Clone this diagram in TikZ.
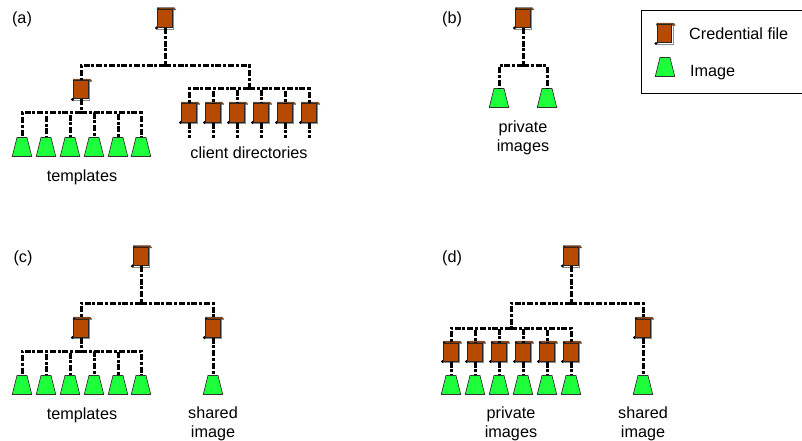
\documentclass[tikz,border=0pt]{standalone}
\usepackage{fontspec}
\setmainfont{Liberation Sans}
\usetikzlibrary{shapes.geometric, calc}
\definecolor{credbrown}{HTML}{B84A00}
\definecolor{imggreen}{HTML}{1EFF3C}
\tikzset{
    link/.style={black, line width=3pt, dash pattern=on 6pt off 1.8pt on 3pt off 1.8pt},
    credfile/.style={draw=black!85, line width=1pt, fill=credbrown, minimum width=14.5pt, minimum height=18pt, inner sep=0pt,
        append after command={
            \pgfextra{
                \draw[black!45, line width=0.8pt] ($(\tikzlastnode.north east)+(1pt,0pt)$) -- ($(\tikzlastnode.south east)+(1pt,-1pt)$) -- ($(\tikzlastnode.south west)+(0pt,-1pt)$);
                \fill[credbrown!75!black, draw=black!60, line width=0.5pt] ($(\tikzlastnode.north west)+(0pt,-0.8pt)$) -- ($(\tikzlastnode.north east)+(3pt,-0.8pt)$) -- ($(\tikzlastnode.north east)+(1.5pt,1.4pt)$) -- ($(\tikzlastnode.north west)+(0pt,1.4pt)$) -- cycle;
                \fill[black] ($(\tikzlastnode.north west)+(0.8pt,-0.4pt)$) circle (1.4pt);
                \fill[black] ($(\tikzlastnode.south west)+(-0.8pt,0pt)$) circle (1.7pt);
            }
        }},
    imagefile/.style={draw=black!80, line width=0.7pt, fill=imggreen, trapezium, trapezium left angle=76, trapezium right angle=76, inner xsep=5pt, inner ysep=9.5pt},
    lbl/.style={font=\fontsize{16.2}{18.8}\selectfont, align=center, inner sep=0pt}
}
\begin{document}
\begin{tikzpicture}[x=1pt, y=-1pt]
    \useasboundingbox (0,0) rectangle (802,441);

    % (a)
    \node[lbl] (tagA) at (22,19) {(a)};
    \node[credfile] (aroot) at (165,18.5) {};
    \node[credfile] (atpl) at (81,90) {};
    \coordinate (abus) at (165,66);
    \coordinate (abusr) at (249,66);
    \coordinate (atplbus) at (81,113);
    \coordinate (aclibus) at (249,89);
    \draw[link] (aroot.south) -- (abus) -| (atpl.north);
    \draw[link] (abus) -- (abusr) -- (aclibus);
    \draw[link] (atpl.south) -- (atplbus);
    \foreach \i/\x in {1/22, 2/46, 3/70, 4/94, 5/118, 6/141} {
        \node[imagefile] (aimg\i) at (\x,147) {};
        \draw[link] (atplbus) -| (aimg\i.north);
    }
    \foreach \i/\x in {1/189, 2/213, 3/237, 4/261, 5/285, 6/309} {
        \node[credfile] (acli\i) at (\x,113) {};
        \coordinate (aend\i) at (\x,138);
        \draw[link] (aclibus) -| (acli\i.north);
        \draw[link] (acli\i.south) -- (aend\i);
    }
    \node[lbl] (atpltxt) at (82,177) {templates};
    \node[lbl] (aclitxt) at (249,153) {client directories};

    % (b)
    \node[lbl] (tagB) at (452,19) {(b)};
    \node[credfile] (broot) at (523,18.5) {};
    \node[imagefile] (bimg1) at (499,98) {};
    \node[imagefile] (bimg2) at (547,98) {};
    \coordinate (bbus) at (523,66);
    \draw[link] (broot.south) -- (bbus);
    \draw[link] (bbus) -| (bimg1.north);
    \draw[link] (bbus) -| (bimg2.north);
    \node[lbl] (btxt) at (523,137.5) {private\\images};

    % legend
    \node[draw=black, line width=0.7pt, minimum width=161pt, minimum height=83pt, inner sep=0pt] (legend) at (721.5,51.5) {};
    \node[credfile] (legcred) at (664.5,34) {};
    \node[imagefile] (legimg) at (665,67) {};
    \node[lbl, anchor=base west] (legcredtxt) at (689,40) {Credential file};
    \node[lbl, anchor=base west] (legimgtxt) at (690,77) {Image};

    % (c)
    \node[lbl] (tagC) at (23,258) {(c)};
    \node[credfile] (croot) at (141,256.5) {};
    \node[credfile] (ctpl) at (81,328) {};
    \node[credfile] (cshr) at (213,328) {};
    \node[imagefile] (cshrimg) at (213,385) {};
    \coordinate (cbus) at (141,303);
    \coordinate (ctplbus) at (81,351);
    \draw[link] (croot.south) -- (cbus);
    \draw[link] (cbus) -| (ctpl.north);
    \draw[link] (cbus) -| (cshr.north);
    \draw[link] (ctpl.south) -- (ctplbus);
    \draw[link] (cshr.south) -- (cshrimg.north);
    \foreach \i/\x in {1/22, 2/46, 3/70, 4/94, 5/118, 6/141} {
        \node[imagefile] (cimg\i) at (\x,385) {};
        \draw[link] (ctplbus) -| (cimg\i.north);
    }
    \node[lbl] (ctpltxt) at (82,415) {templates};
    \node[lbl] (cshrtxt) at (213,424) {shared\\image};

    % (d)
    \node[lbl] (tagD) at (452,258) {(d)};
    \node[credfile] (droot) at (571,256.5) {};
    \node[credfile] (dshr) at (643,328) {};
    \node[imagefile] (dshrimg) at (643,385) {};
    \coordinate (dbus) at (571,303);
    \coordinate (dprvbus) at (511,328);
    \draw[link] (droot.south) -- (dbus);
    \draw[link] (dbus) -| (dprvbus);
    \draw[link] (dbus) -| (dshr.north);
    \draw[link] (dshr.south) -- (dshrimg.north);
    \foreach \i/\x in {1/451, 2/475, 3/499, 4/523, 5/547, 6/571} {
        \node[credfile] (dcred\i) at (\x,352) {};
        \node[imagefile] (dimg\i) at (\x,385) {};
        \draw[link] (dprvbus) -| (dcred\i.north);
        \draw[link] (dcred\i.south) -- (dimg\i.north);
    }
    \node[lbl] (dprvtxt) at (511,424) {private\\images};
    \node[lbl] (dshrtxt) at (643,424) {shared\\image};
\end{tikzpicture}
\end{document}
